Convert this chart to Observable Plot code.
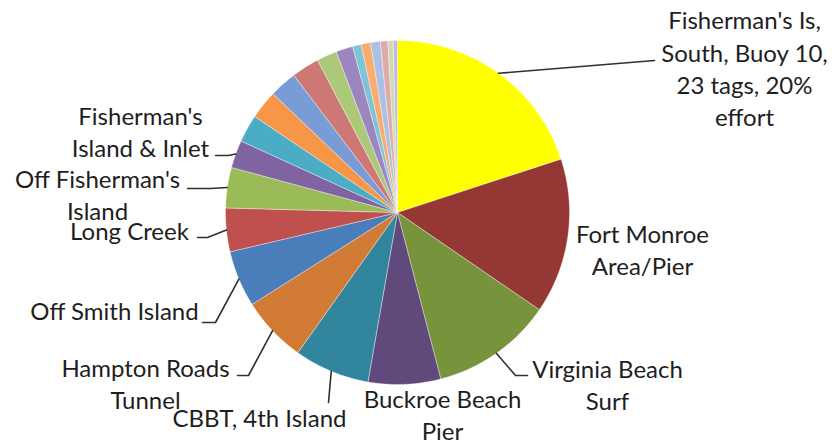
<!DOCTYPE html>
<html>
<head>
<meta charset="utf-8">
<script src="https://cdn.jsdelivr.net/npm/d3@7"></script>
<script src="https://cdn.jsdelivr.net/npm/@observablehq/plot@0.6"></script>
<style>
  html, body { margin: 0; padding: 0; background: #ffffff; }
  #chart { width: 836px; height: 447px; }
</style>
</head>
<body>
<div id="chart"></div>
<script>
// ---- Data (percent of effort per site, clockwise from 12 o'clock) ----
const sites = [
  "Fisherman's Is,\nSouth, Buoy 10,\n23 tags, 20%\neffort",
  "Fort Monroe\nArea/Pier",
  "Virginia Beach\nSurf",
  "Buckroe Beach\nPier",
  "CBBT, 4th Island",
  "Hampton Roads\nTunnel",
  "Off Smith Island",
  "Long Creek",
  "Off Fisherman's\nIsland",
  "Fisherman's\nIsland & Inlet",
  "", "", "", "", "", "", "", "", "", "", "", ""
];
const effort = [20.0, 14.6, 11.4, 6.8, 7.1, 6.2, 5.3, 4.1, 3.8, 2.6, 2.6, 2.7, 2.6, 2.6, 1.9, 1.6, 0.8, 0.9, 0.9, 0.7, 0.5, 0.4];
const sliceColors = [
  "#ffff00", "#953735", "#77933c", "#604a7b", "#31859c", "#d27b34", "#4a7ebb",
  "#c0504d", "#9bbb59", "#8064a2", "#4bacc6", "#f79646", "#7a9cd6", "#ce7876",
  "#acc97a", "#9c86c0", "#7ec3d6", "#f9ab70", "#a9c1e3", "#e0aaa9", "#cddcae", "#c5bad6"
];

// ---- Layout (annotation placement) ----
const cx = 397, cy = 212, r = 172;
const labelPos = [[744, 67], [642, 248], [607, 383], [442, 413], [259, 416], [145, 382], [114, 309], [129, 229], [97, 193], [140, 130]];
const leaderBends = [
  [[654, 60]], null, [[515, 375], [527, 375]], null, [[328, 402]],
  [[248, 375], [237, 375]], [[215, 322], [202, 322]], [[207, 237], [197, 237]],
  [[210, 188], [187, 188]], [[228, 155], [215, 155]]
];

const rows = effort.map((v, i) => ({i, site: sites[i], effort: v, color: sliceColors[i]}));
const arcs = d3.pie().sort(null).value(d => d.effort)(rows);
const px = a => cx + r * Math.sin(a);
const py = a => cy - r * Math.cos(a);

// slice outlines: centre, arc samples, centre
const slicePts = [];
for (const a of arcs) {
  const n = Math.max(2, Math.ceil((a.endAngle - a.startAngle) / (Math.PI / 360)));
  slicePts.push({i: a.data.i, color: a.data.color, x: cx, y: cy});
  for (let k = 0; k <= n; k++) {
    const t = a.startAngle + (a.endAngle - a.startAngle) * k / n;
    slicePts.push({i: a.data.i, color: a.data.color, x: px(t), y: py(t)});
  }
  slicePts.push({i: a.data.i, color: a.data.color, x: cx, y: cy});
}

// leader lines start at the slice edge at its mid angle
const leaderPts = [];
arcs.forEach((a, idx) => {
  const bends = leaderBends[idx];
  if (!bends) return;
  const m = (a.startAngle + a.endAngle) / 2;
  leaderPts.push({i: idx, x: px(m), y: py(m)});
  for (const [x, y] of bends) leaderPts.push({i: idx, x, y});
});

const labels = rows.filter(d => d.site).map((d, k) => ({text: d.site, x: labelPos[k][0], y: labelPos[k][1]}));

const chart = Plot.plot({
  width: 836,
  height: 447,
  margin: 0,
  style: {background: "#ffffff"},
  x: {domain: [0, 836], range: [0, 836], axis: null},
  y: {domain: [0, 447], range: [0, 447], axis: null},
  marks: [
    Plot.line(slicePts, {x: "x", y: "y", z: "i", fill: "color", stroke: "#ffffff", strokeWidth: 0.6, strokeOpacity: 0.6, curve: "linear"}),
    Plot.line(leaderPts, {x: "x", y: "y", z: "i", stroke: "#303030", strokeWidth: 1.6, curve: "linear"}),
    Plot.text(labels, {x: "x", y: "y", text: "text", textAnchor: "middle", lineAnchor: "middle", lineHeight: 1.35, fontSize: 24, fontFamily: "Lato", fill: "#1e1e1e"})
  ]
});
document.getElementById("chart").appendChild(chart);
</script>
</body>
</html>
